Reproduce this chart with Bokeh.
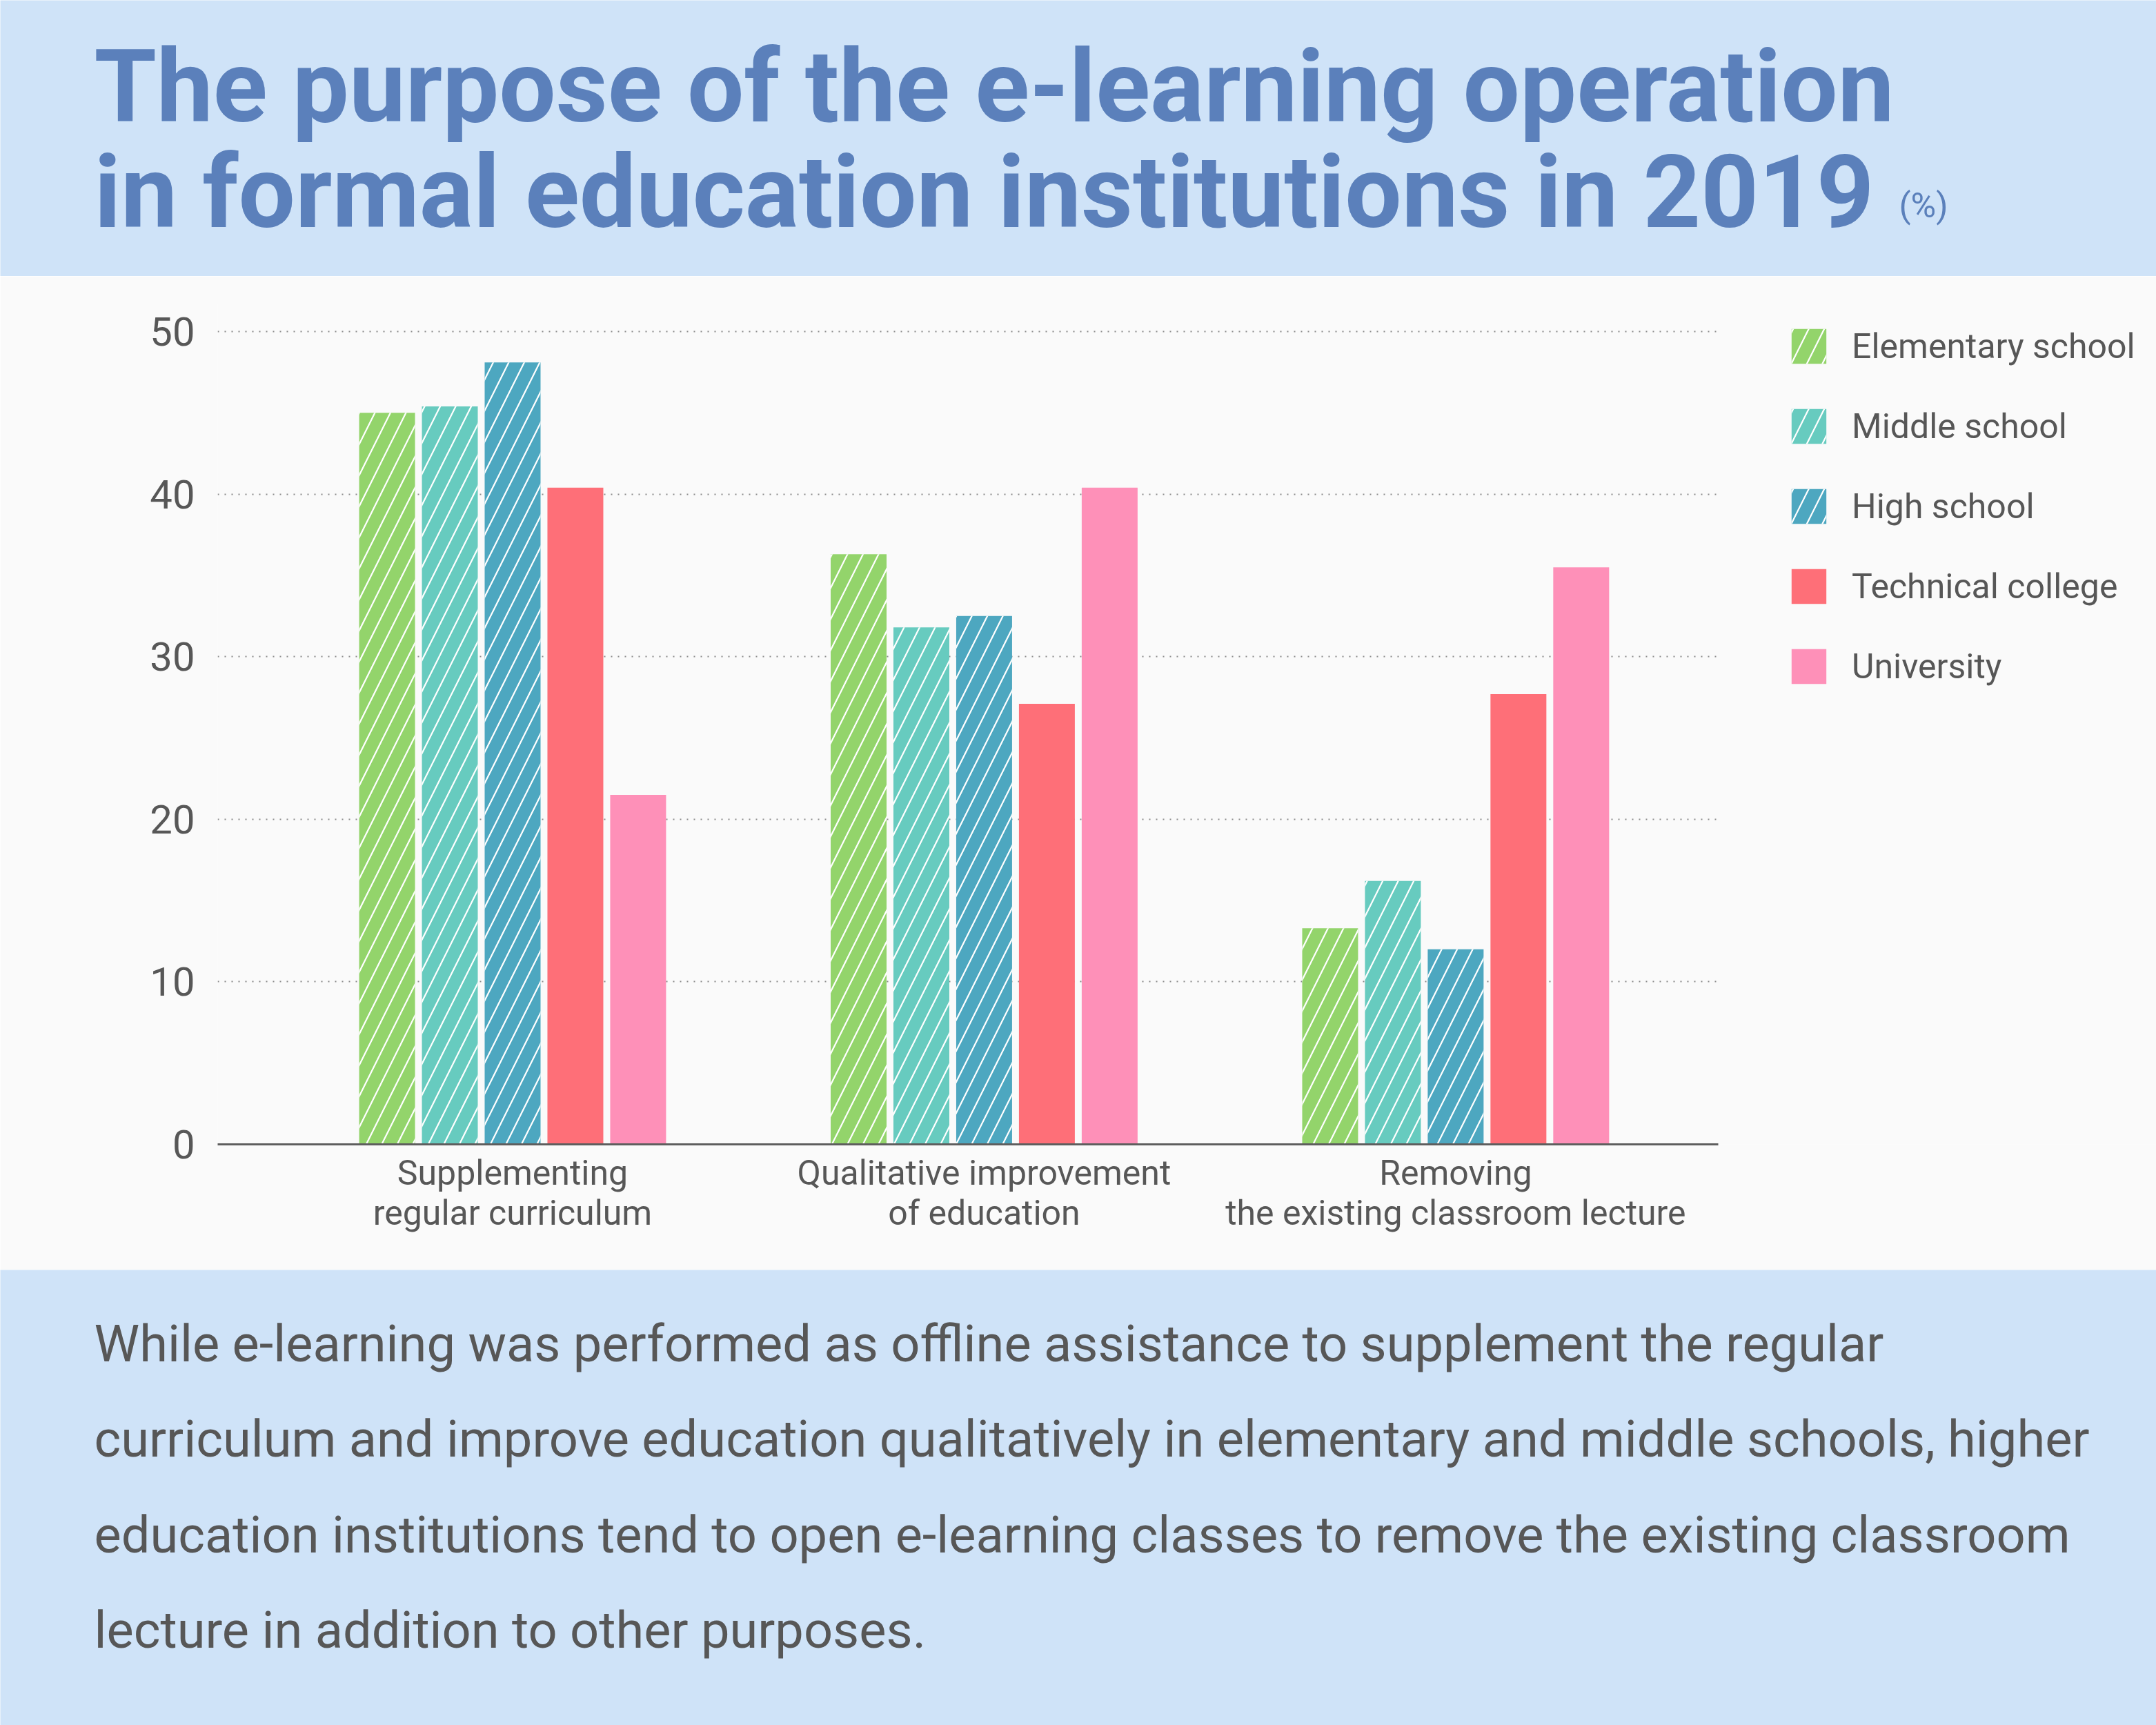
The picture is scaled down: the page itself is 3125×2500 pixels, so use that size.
from bokeh.plotting import figure
from bokeh.layouts import column
from bokeh.models import (ColumnDataSource, Range1d, FixedTicker, Legend, LegendItem)
from bokeh.transform import dodge
from bokeh.core.properties import value
from bokeh.embed import file_html
from bokeh.resources import INLINE

# ---------------- data ----------------
categories = ["Supplementing\nregular curriculum",
              "Qualitative improvement\nof education",
              "Removing\nthe existing classroom lecture"]
series_names = ["Elementary school", "Middle school", "High school",
                "Technical college", "University"]
elementary = [45.0, 36.3, 13.3]
middle = [45.4, 31.8, 16.2]
high = [48.1, 32.5, 12.0]
technical = [40.4, 27.1, 27.7]
university = [21.5, 40.4, 35.5]
y_ticks = [0, 10, 20, 30, 40, 50]

title_lines = ["The purpose of the e-learning operation",
               "in formal education institutions in 2019"]
unit_label = "(%)"
note_lines = [
    "While e-learning was performed as offline assistance to supplement the regular",
    "curriculum and improve education qualitatively in elementary and middle schools, higher",
    "education institutions tend to open e-learning classes to remove the existing classroom",
    "lecture in addition to other purposes.",
]

# ---------------- style ----------------
W = 3125
H_TOP, H_MID, H_BOT = 400, 1440, 660
BAND = "#cfe3f8"
PANEL = "#fafafa"
TITLE_C = "#5b80bb"
TEXT_C = "#575757"
FONT = "Roboto"
colors = ["#93d46b", "#67cbbf", "#4da7c0", "#fe6f78", "#fe90b8"]
hatched = [True, True, True, False, False]


def no_align(fig):
    try:
        fig.frame_align = False
    except Exception:
        pass


def band_figure(h):
    f = figure(width=W, height=h, x_range=Range1d(0, W), y_range=Range1d(h, 0),
               output_backend="svg", toolbar_location=None,
               x_axis_location=None, y_axis_location=None, min_border=0)
    no_align(f)
    f.grid.visible = False
    f.outline_line_color = None
    f.background_fill_color = BAND
    f.border_fill_color = BAND
    return f


# ---------------- title band ----------------
top = band_figure(H_TOP)
top.text(x=[136, 136], y=[126, 279], text=title_lines, text_font=value(FONT),
         text_font_style="bold", text_font_size="146px", text_color=TITLE_C,
         text_baseline="alphabetic", text_align="left")
top.text(x=[2752], y=[297], text=[unit_label], text_font=value(FONT),
         text_font_size="50px", text_color=TITLE_C,
         text_baseline="alphabetic", text_align="left")

# ---------------- chart ----------------
xs = list(range(len(categories)))
source = ColumnDataSource(dict(x=xs, elementary=elementary, middle=middle, high=high,
                               technical=technical, university=university))
keys = ["elementary", "middle", "high", "technical", "university"]

X_LO, X_AXIS_HI, X_HI = -0.6255, 2.557, 3.486
p = figure(width=W, height=H_MID, x_range=Range1d(X_LO, X_HI), y_range=Range1d(0, 51.70),
           output_backend="svg", toolbar_location=None,
           min_border_left=315, min_border_right=0, min_border_top=40, min_border_bottom=182)
no_align(p)
p.background_fill_color = PANEL
p.border_fill_color = PANEL
p.outline_line_color = None

step = 0.1331
bw = 0.1185
renderers = []
for i, (k, c, h) in enumerate(zip(keys, colors, hatched)):
    r = p.vbar(x=dodge("x", (i - 2) * step, range=p.x_range), top=k, width=bw,
               source=source, fill_color=c, line_color=None,
               hatch_pattern="/" if h else None, hatch_color="white",
               hatch_weight=2.2, hatch_scale=45)
    renderers.append(r)

p.xaxis.ticker = FixedTicker(ticks=xs)
p.xaxis.bounds = (X_LO, X_AXIS_HI)
p.xaxis.major_label_overrides = {i: c for i, c in enumerate(categories)}
p.xaxis.axis_line_color = "#5e5e5e"
p.xaxis.axis_line_width = 3
p.xaxis.major_tick_line_color = None
p.xaxis.minor_tick_line_color = None
p.xaxis.major_label_text_font = FONT
p.xaxis.major_label_text_font_size = "50px"
p.xaxis.major_label_text_color = TEXT_C
p.xaxis.major_label_text_line_height = 1.0
p.xaxis.major_label_standoff = 6

p.yaxis.ticker = FixedTicker(ticks=y_ticks)
p.yaxis.axis_line_color = None
p.yaxis.major_tick_line_color = None
p.yaxis.minor_tick_line_color = None
p.yaxis.major_tick_out = 0
p.yaxis.major_label_text_font = FONT
p.yaxis.major_label_text_font_size = "58px"
p.yaxis.major_label_text_color = TEXT_C
p.yaxis.major_label_standoff = 33

p.xgrid.grid_line_color = None
yg = p.ygrid[0]
grid_ok = True
try:
    yg.cross_bounds = (X_LO, X_AXIS_HI)
except Exception:
    grid_ok = False
if grid_ok:
    yg.grid_line_color = "#8c8c8c"
    yg.grid_line_dash = "2 8"
    yg.grid_line_width = 2
else:
    yg.grid_line_color = None
    p.segment(x0=[X_LO] * len(y_ticks), x1=[X_AXIS_HI] * len(y_ticks), y0=y_ticks, y1=y_ticks,
              line_color="#8c8c8c", line_dash="2 8", line_width=2, level="underlay")

legend = Legend(items=[LegendItem(label=n, renderers=[r]) for n, r in zip(series_names, renderers)],
                location=(2275, 661), orientation="vertical",
                glyph_width=63, glyph_height=63, spacing=53, padding=0, margin=0,
                label_standoff=31, label_text_font=FONT, label_text_font_size="50px",
                label_text_color=TEXT_C, label_height=63,
                background_fill_alpha=0, border_line_color=None)
p.add_layout(legend)

# ---------------- note band ----------------
bot = band_figure(H_BOT)
bot.text(x=[136] * len(note_lines), y=[107, 245, 384, 522], text=note_lines,
         text_font=value(FONT), text_font_size="74px", text_color=TEXT_C,
         text_baseline="alphabetic", text_align="left")

layout = column(top, p, bot, spacing=0)
open("out.html", "w").write(file_html(layout, INLINE))
